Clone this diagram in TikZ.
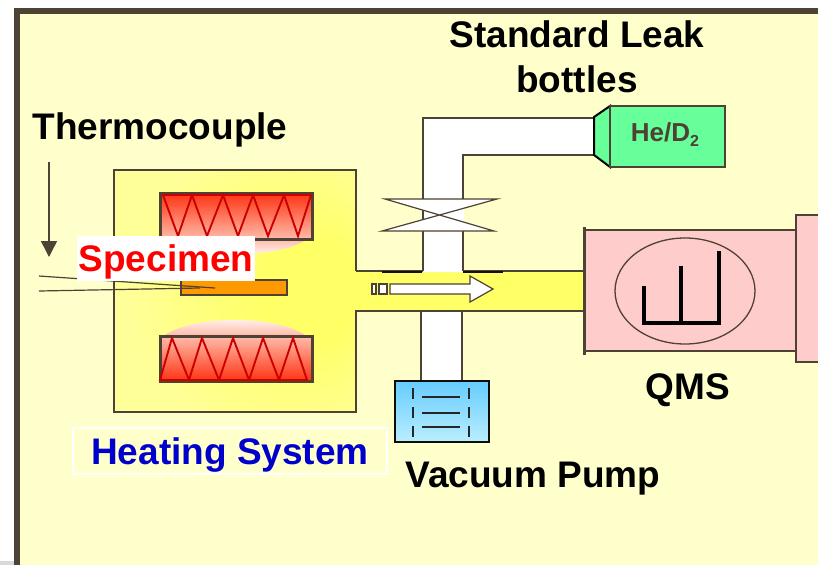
\documentclass[tikz,border=0pt]{standalone}
\usepackage{fontspec}
\setmainfont{Liberation Sans}
\usetikzlibrary{arrows.meta}
\definecolor{linebrown}{HTML}{4D4233}
\definecolor{paleyellow}{HTML}{FFFFCC}
\definecolor{midyellow}{HTML}{FFFF99}
\definecolor{hotyellow}{HTML}{FFFF66}
\definecolor{coilred}{HTML}{CC0000}
\definecolor{heatred}{HTML}{FF3311}
\definecolor{heatpink}{HTML}{FFBBAA}
\definecolor{bottlegreen}{HTML}{66FF99}
\definecolor{qmspink}{HTML}{FFCCCC}
\definecolor{pumptop}{HTML}{66CCFF}
\definecolor{pumpbot}{HTML}{BBEEFF}
\pgfdeclareradialshading{chamberglow}{\pgfpoint{18bp}{0bp}}{color(0bp)=(hotyellow); color(10bp)=(hotyellow); color(32bp)=(midyellow); color(70bp)=(midyellow)}
\tikzset{
    wall/.style={draw=linebrown,line width=1.6pt},
    label/.style={font=\bfseries\fontsize{37}{37}\selectfont,inner sep=0pt,text=black},
    coil/.style={draw=coilred,line width=1.9pt,line join=miter},
    heater/.style={draw=linebrown,line width=3pt},
}
\begin{document}
\begin{tikzpicture}[x=1pt,y=-1pt]
    \useasboundingbox (0,0) rectangle (818,565);
    \fill[white] (0,0) rectangle (818,565);
    \fill[black!15] (0,561) rectangle (14,565);
    \fill[paleyellow] (17,565)--(17,11)--(818,11)--(818,565)--cycle;
    \draw[linebrown,line width=6pt] (17,565)--(17,11)--(818,11);
    \fill[hotyellow] (356,271) rectangle (584,311);
    \shade[shading=chamberglow] (114,170) rectangle (356,412);
    \draw[wall] (356,271)--(356,170)--(114,170)--(114,412)--(356,412)--(356,311)--(584,311);
    \draw[wall] (356,271)--(584,271);
    % heaters
    \path[top color=heatpink,bottom color=white] (185,239) .. controls (215,258) and (280,258) .. (307,239)--cycle;
    \path[top color=white,bottom color=heatpink] (165,335) .. controls (195,315) and (275,315) .. (305,335)--cycle;
    \draw[heater,top color=heatred,bottom color=heatpink] (160,193) rectangle (312,239);
    \draw[heater,top color=heatpink,bottom color=heatred] (160,336) rectangle (312,381);
    \draw[coil] (163,195)--(311,195)--(298,236)--(284,195)--(268,236)--(253,195)--(238,236)--(223,195)--(207,236)--(192,195)--(178,236)--cycle;
    \draw[coil] (160,380)--(307,380)--(293,338)--(279,380)--(263,338)--(249,380)--(233,338)--(219,380)--(202,338)--(189,380)--(172,338)--cycle;
    \draw[draw=linebrown,line width=1.3pt,fill=orange!80!yellow] (181,280) rectangle (287,295);
    % thermocouple wires
    \coordinate(w1) at (39,276);
    \coordinate(w2) at (215,288);
    \coordinate(w3) at (39,291);
    \coordinate(w4) at (200,288);
    \coordinate(p1) at (49,162);
    \coordinate(p2) at (49,257);
    \draw[linebrown,line width=1.2pt] (w1)--(w2);
    \draw[linebrown,line width=1.2pt] (w3)--(w4);
    \draw[linebrown,line width=1.4pt,-{Triangle[length=16pt,width=16pt]}] (p1)--(p2);
    % tubes
    \fill[white] (423,272)--(423,118)--(594,118)--(594,155)--(463,155)--(463,272)--cycle;
    \draw[wall] (423,271)--(423,118)--(594,118);
    \draw[wall] (594,155)--(463,155)--(463,271);
    \fill[white] (424,200) rectangle (464,231);
    \draw[linebrown,line width=1.2pt,fill=white] (385,199)--(497,199)--(382,231)--(494,231)--cycle;
    \draw[black!75!linebrown,line width=1.6pt] (382,272)--(422,272);
    \draw[black!75!linebrown,line width=1.6pt] (463,272)--(503,272);
    \draw[wall,fill=white] (421,381)--(421,311)--(462,311)--(462,381);
    % flow arrow
    \draw[linebrown,line width=1.2pt,fill=white] (390,284)--(470,284)--(470,276)--(493,289)--(470,302)--(470,294)--(390,294)--cycle;
    \draw[linebrown,line width=1.2pt,fill=white] (372,284) rectangle (376,294);
    \draw[linebrown,line width=1.2pt,fill=white] (379,284) rectangle (387,294);
    % pump
    \draw[black!80!linebrown,line width=1.5pt,top color=pumptop,bottom color=pumpbot] (395,381) rectangle (489,442);
    \foreach \y in {397,413,427}
        \draw[black!85,line width=1.3pt] (422,\y)--(460,\y);
    \foreach \x in {413,469}
        \draw[black!85,line width=1.3pt,dash pattern=on 11pt off 8pt] (\x,388)--(\x,437);
    % bottle
    \draw[line width=2pt,fill=bottlegreen] (594,117)--(610,106)--(610,167)--(594,155)--cycle;
    \draw[wall,fill=bottlegreen] (610,106) rectangle (725,167);
    \node(gas) at (665,135) {\textcolor{linebrown}{\bfseries\fontsize{26}{26}\selectfont He/D\raisebox{-5pt}{\fontsize{16}{16}\selectfont 2}}};
    % QMS
    \draw[wall,fill=qmspink] (584,230) rectangle (796,351);
    \draw[wall,fill=qmspink] (818,215)--(796,215)--(796,362)--(818,362);
    \draw[linebrown,line width=3pt] (584,227)--(584,355);
    \draw[linebrown,line width=1.3pt] (685,291) ellipse [x radius=70,y radius=53];
    \draw[black,line width=3.5pt] (644,286)--(644,323)--(719,323)--(719,251);
    \draw[black,line width=3.5pt] (681,266)--(681,323);
    % labels
    \node[label](therm) at (160,130) {Thermocouple};
    \node[label,align=center](leak) at (577,57) {Standard Leak\\[8pt]bottles};
    \node[label,fill=white,text=red,minimum width=178pt,minimum height=45pt,text height=30pt,text depth=4pt](speci) at (166,258) {Specimen};
    \node[label,draw=white,line width=1.5pt,text=blue!80!black,minimum width=314pt,minimum height=46pt,text height=30pt,text depth=4pt](heat) at (230,451) {Heating System};
    \node[label](qms) at (688,390) {QMS};
    \node[label](pump) at (533,479) {Vacuum Pump};
\end{tikzpicture}
\end{document}
